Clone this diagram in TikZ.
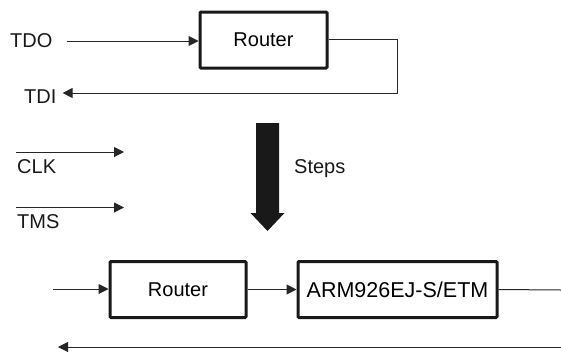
\documentclass[tikz,border=0pt]{standalone}
\usepackage{fontspec}
\setmainfont{Liberation Sans}
\usetikzlibrary{arrows.meta}
\begin{document}
\begin{tikzpicture}[x=1pt,y=-1pt,
  blk/.style={draw=black!90,line width=3pt,rounded corners=1pt,minimum height=56pt,inner sep=0pt,font=\fontsize{20}{22}\selectfont},
  lbl/.style={font=\fontsize{20}{22}\selectfont,inner sep=0pt,text=black!90},
  wire/.style={line width=1pt,draw=black!85},
  arr/.style={wire,-{Triangle[length=10pt,width=10pt]}}]
\useasboundingbox (0,0) rectangle (561,351);
\node[blk,minimum width=127pt] (r1) at (263.5,40) {Router};
\node[lbl,anchor=west] (tdo) at (10,41) {TDO};
\node[lbl,anchor=west] (tdi) at (24,97) {TDI};
\coordinate (c1) at (397,39);
\coordinate (c2) at (397,93);
\draw[arr] ([xshift=14pt]tdo.east) -- (r1.west |- 0,41);
\draw[arr] (r1.east |- c1) -- (c1) -- (c2) -- ([xshift=6pt]tdi.east |- c2);
% CLK / TMS
\node[lbl,anchor=north west] (clk) at (17,159) {CLK};
\node[lbl,anchor=north west] (tms) at (17,214) {TMS};
\coordinate (clkA) at (16,152);
\coordinate (clkB) at (124,152);
\coordinate (tmsA) at (16,207.5);
\coordinate (tmsB) at (124,207.5);
\draw[arr] (clkA) -- (clkB);
\draw[arr] (tmsA) -- (tmsB);
% big arrow
\fill[black!90] (256,123) -- (279,123) -- (279,213) -- (284.5,213) -- (267.5,231) -- (250.5,213) -- (256,213) -- cycle;
\node[lbl,anchor=west] (steps) at (294,169) {Steps};
% bottom
\node[blk,minimum width=136pt] (r2) at (178,289.5) {Router};
\node[blk,minimum width=199pt,font=\fontsize{21.5}{23}\selectfont] (arm) at (397.5,289.5) {ARM926EJ-S/ETM};
\coordinate (in2) at (53,289);
\coordinate (out2) at (561,290);
\coordinate (bA) at (561,347);
\coordinate (bB) at (58,347);
\draw[arr] (in2) -- (r2.west |- in2);
\draw[arr] (r2.east) -- (arm.west);
\draw[wire] (arm.east) -- (out2);
\draw[arr] (bA) -- (bB);
\end{tikzpicture}
\end{document}
